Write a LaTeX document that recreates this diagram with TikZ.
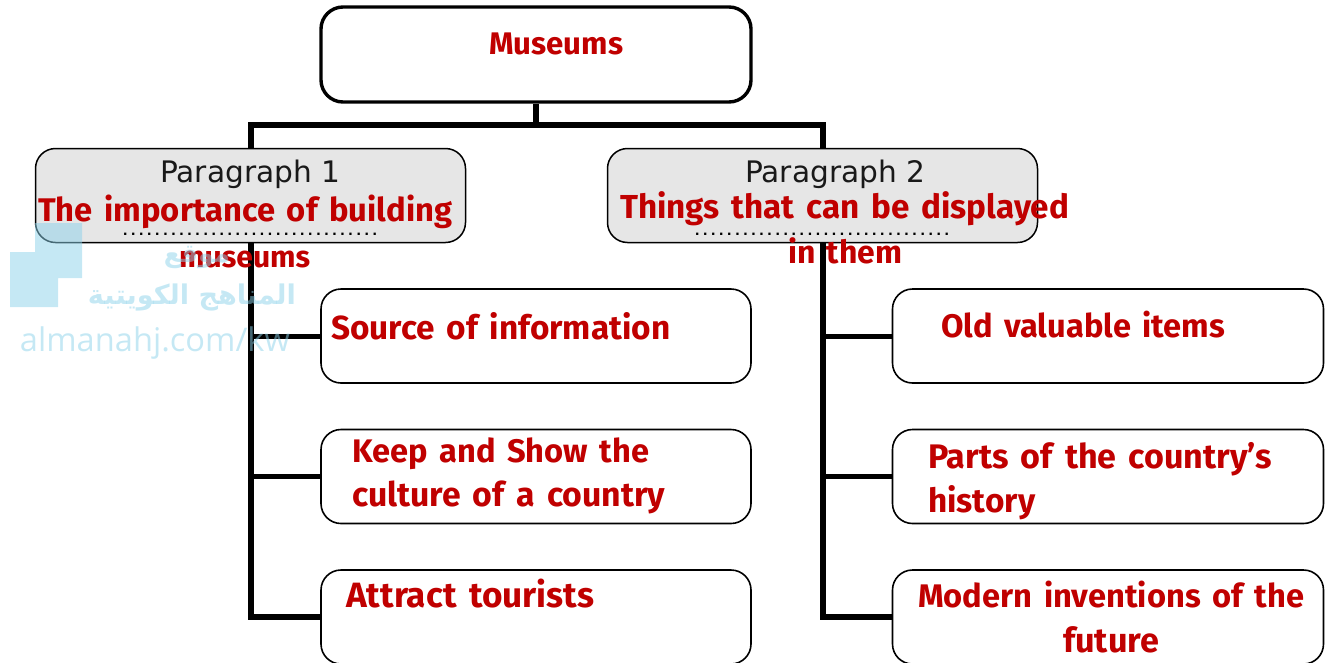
\documentclass[tikz,border=0pt]{standalone}
\usepackage{fontspec}
\usepackage{graphicx}
\setmainfont{DejaVu Sans}
\newfontfamily\redfont[WordSpace=1.5]{Fira Sans}
\newfontfamily\arabicfont[Script=Arabic]{DejaVu Sans}
\newfontfamily\wmfont{Open Sans}
\newfontfamily\dotfont[LetterSpace=23]{Liberation Sans}
\TeXXeTstate=1
\definecolor{redtxt}{HTML}{C00000}
\definecolor{wm}{HTML}{8CD2EA}
\definecolor{boxgray}{HTML}{E6E6E6}
\newcommand{\fitw}[2]{\resizebox{#1pt}{!}{#2}}
\tikzset{
  x=1pt,y=-1pt,
  topbox/.style={draw=black,line width=3.4pt,rounded corners=22pt,fill=white,minimum width=430pt,minimum height=95pt,inner sep=0pt},
  parabox/.style={draw=black,line width=1.5pt,rounded corners=20pt,fill=boxgray,minimum width=430pt,minimum height=94pt,inner sep=0pt},
  itembox/.style={draw=black,line width=1.6pt,rounded corners=20pt,fill=white,minimum width=430pt,minimum height=94pt,inner sep=0pt},
  conn/.style={draw=black,line width=6pt},
  branch/.style={draw=black,line width=5pt},
  redlabel/.style={anchor=base west,inner sep=0pt,text=redtxt,font=\redfont\bfseries\fontsize{30pt}{34pt}\selectfont},
  graylabel/.style={anchor=base west,inner sep=0pt,text=black!90},
  dotline/.style={anchor=center,inner sep=0pt,text=black,font=\dotfont\bfseries\fontsize{16pt}{16pt}\selectfont},
  wmtext/.style={anchor=center,inner sep=0pt,text=wm,opacity=.5},
}
\begin{document}
\begin{tikzpicture}
\useasboundingbox (0,0) rectangle (1330,662);
\clip (0,0) rectangle (1330,662);
\node[topbox] (top) at (536,54.5) {};
\node[parabox] (p1) at (250.5,195.5) {};
\node[parabox] (p2) at (822.5,195.5) {};
\node[itembox] (a1) at (536,336) {};
\node[itembox] (a2) at (536,476.5) {};
\node[itembox] (a3) at (536,617) {};
\node[itembox,minimum width=431pt] (b1) at (1108,336) {};
\node[itembox,minimum width=431pt] (b2) at (1108,476.5) {};
\node[itembox,minimum width=431pt] (b3) at (1108,617) {};
\coordinate (bus) at (536,125);
% connectors
\draw[conn] (top.south) -- (bus);
\draw[conn] (p1.north) -- (p1.north |- bus) -- (p2.north |- bus) -- (p2.north);
\draw[conn] (p1.south) -- (p1.south |- a3.west) -- (a3.west);
\draw[conn] (p2.south) -- (p2.south |- b3.west) -- (b3.west);
\draw[branch] (p1.south |- a1.west) -- (a1.west);
\draw[branch] (p1.south |- a2.west) -- (a2.west);
\draw[branch] (p2.south |- b1.west) -- (b1.west);
\draw[branch] (p2.south |- b2.west) -- (b2.west);
% paragraph titles and dotted lines
\node[graylabel] (t1) at (160,182) {\fitw{180}{Paragraph 1}};
\node[graylabel] (t2) at (745,182) {\fitw{180}{Paragraph 2}};
\node[dotline] (d1) at (250,234) {\fitw{254}{................................}};
\node[dotline] (d2) at (822,234) {\fitw{254}{................................}};
% answers
\node[redlabel] (r0) at (489,54) {\fitw{134}{Museums}};
\node[redlabel] (r1) at (38,221) {\fitw{414}{The importance of building}};
\node[redlabel] (r2) at (179,267) {\fitw{131}{museums}};
\node[redlabel] (r3) at (620,218) {\fitw{449}{Things that can be displayed}};
\node[redlabel] (r4) at (788,263) {\fitw{114}{in them}};
\node[redlabel] (r5) at (331,339) {\fitw{339}{Source of information}};
\node[redlabel] (r6) at (352,462) {\fitw{297}{Keep and Show the}};
\node[redlabel] (r7) at (352,506) {\fitw{313}{culture of a country}};
\node[redlabel] (r8) at (346,607) {\fitw{248}{Attract tourists}};
\node[redlabel] (r9) at (941,337) {\fitw{284}{Old valuable items}};
\node[redlabel] (r10) at (928,468) {\fitw{344}{Parts of the country’s}};
\node[redlabel] (r11) at (928,512) {\fitw{107}{history}};
\node[redlabel] (r12) at (918,607) {\fitw{386}{Modern inventions of the}};
\node[redlabel] (r13) at (1063,652) {\fitw{96}{future}};
% watermark
\fill[wm,opacity=.5] (35,223) -- (82,223) -- (82,278) -- (58,278) -- (58,307) -- (10,307) -- (10,252) -- (35,252) -- cycle;
\node[wmtext] (w1) at (197,258) {\fitw{66}{\arabicfont\bfseries\beginR موقع\endR}};
\node[wmtext] (w2) at (192,297) {\fitw{208}{\arabicfont\bfseries\beginR المناهج الكويتية\endR}};
\node[wmtext] (w3) at (155,343) {\fitw{270}{\wmfont almanahj.com/kw}};
\end{tikzpicture}
\end{document}
